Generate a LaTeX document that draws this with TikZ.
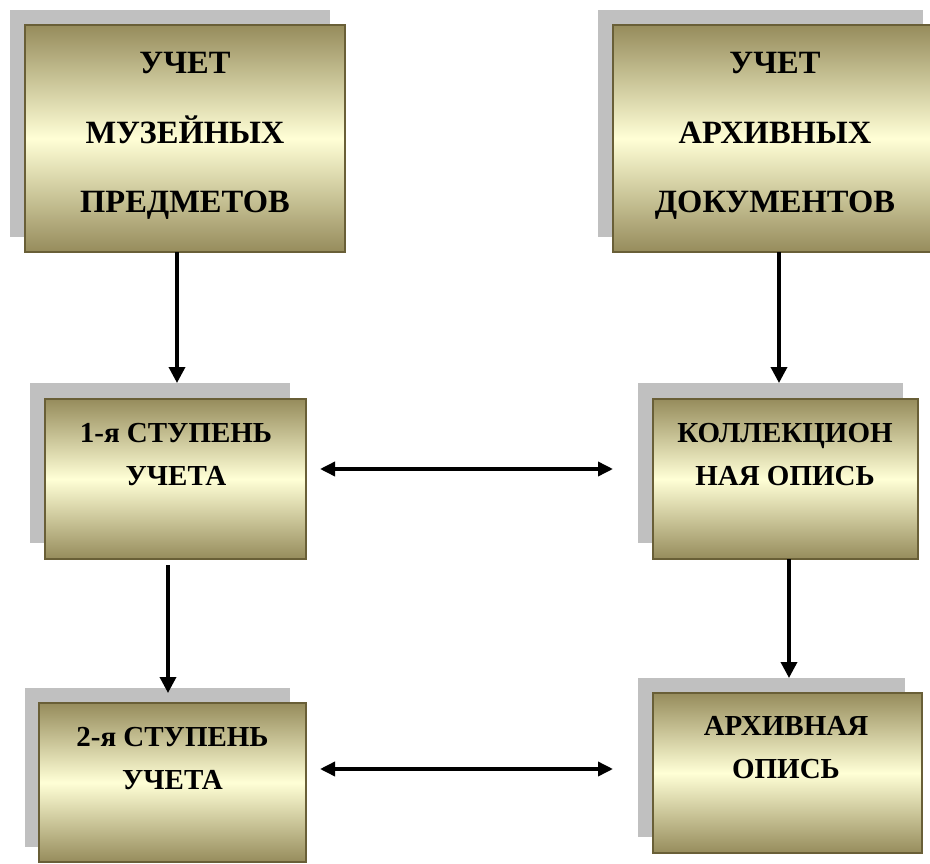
\documentclass[tikz,border=0pt]{standalone}
\usepackage{fontspec}
\setmainfont{Liberation Serif}
\usetikzlibrary{arrows.meta}
\definecolor{olivedark}{RGB}{150,140,92}
\definecolor{creamlight}{RGB}{255,255,214}
\definecolor{boxborder}{RGB}{105,95,55}
\definecolor{shadowgray}{RGB}{192,192,192}
\tikzset{
 shadowbox/.style={fill=shadowgray, draw=none, anchor=north west, inner sep=0pt, outer sep=0pt},
 mainbox/.style={anchor=north west, inner sep=0pt, outer sep=0pt, draw=boxborder, line width=1.2pt, top color=olivedark, bottom color=olivedark, middle color=creamlight},
 bigtext/.style={anchor=base, align=center, font=\fontsize{32.5}{70}\selectfont\bfseries, inner sep=0pt},
 smalltext/.style={anchor=base, align=center, font=\fontsize{29}{43}\selectfont\bfseries, inner sep=0pt},
 arr/.style={line width=3.5pt, -{Triangle[length=16pt,width=16pt]}},
 dblarr/.style={line width=3.5pt, {Triangle[length=15pt,width=14pt]}-{Triangle[length=15pt,width=14pt]}}
}
\begin{document}
\begin{tikzpicture}[x=1pt,y=-1pt]
\useasboundingbox (0,0) rectangle (930,864);
\clip (0,0) rectangle (930,864);
% shadows
\node[shadowbox, minimum width=320pt, minimum height=227pt] (s1) at (10,10) {};
\node[shadowbox, minimum width=325pt, minimum height=227pt] (s2) at (598,10) {};
\node[shadowbox, minimum width=260pt, minimum height=160pt] (s3) at (30,383) {};
\node[shadowbox, minimum width=265pt, minimum height=160pt] (s4) at (638,383) {};
\node[shadowbox, minimum width=265pt, minimum height=159pt] (s5) at (25,688) {};
\node[shadowbox, minimum width=267pt, minimum height=159pt] (s6) at (638,678) {};
% boxes
\node[mainbox, minimum width=320pt, minimum height=227pt] (b1) at (25,25) {};
\node[mainbox, minimum width=325pt, minimum height=227pt] (b2) at (613,25) {};
\node[mainbox, minimum width=261pt, minimum height=160pt] (b3) at (45,399) {};
\node[mainbox, minimum width=265pt, minimum height=160pt] (b4) at (653,399) {};
\node[mainbox, minimum width=267pt, minimum height=159pt] (b5) at (39,703) {};
\node[mainbox, minimum width=269pt, minimum height=160pt] (b6) at (653,693) {};
% texts (anchor base = baseline of the last line)
\node[bigtext] (t1) at (185,213) {УЧЕТ\\МУЗЕЙНЫХ\\ПРЕДМЕТОВ};
\node[bigtext] (t2) at (775,213) {УЧЕТ\\АРХИВНЫХ\\ДОКУМЕНТОВ};
\node[smalltext] (t3) at (176,485) {1-я СТУПЕНЬ\\УЧЕТА};
\node[smalltext] (t4) at (785,485) {КОЛЛЕКЦИОН\\НАЯ ОПИСЬ};
\node[smalltext] (t5) at (172.5,789) {2-я СТУПЕНЬ\\УЧЕТА};
\node[smalltext] (t6) at (786,778) {АРХИВНАЯ\\ОПИСЬ};
% connector end points
\coordinate (c1a) at (177,252);
\coordinate (c1b) at (177,383);
\coordinate (c2a) at (779,252);
\coordinate (c2b) at (779,383);
\coordinate (c3a) at (168,565);
\coordinate (c3b) at (168,693);
\coordinate (c4a) at (789,559);
\coordinate (c4b) at (789,678);
\coordinate (h1a) at (320,469);
\coordinate (h1b) at (613,469);
\coordinate (h2a) at (320,769);
\coordinate (h2b) at (613,769);
% connectors
\draw[arr] (c1a) -- (c1b);
\draw[arr] (c2a) -- (c2b);
\draw[arr] (c3a) -- (c3b);
\draw[arr] (c4a) -- (c4b);
\draw[dblarr] (h1a) -- (h1b);
\draw[dblarr] (h2a) -- (h2b);
\end{tikzpicture}
\end{document}
